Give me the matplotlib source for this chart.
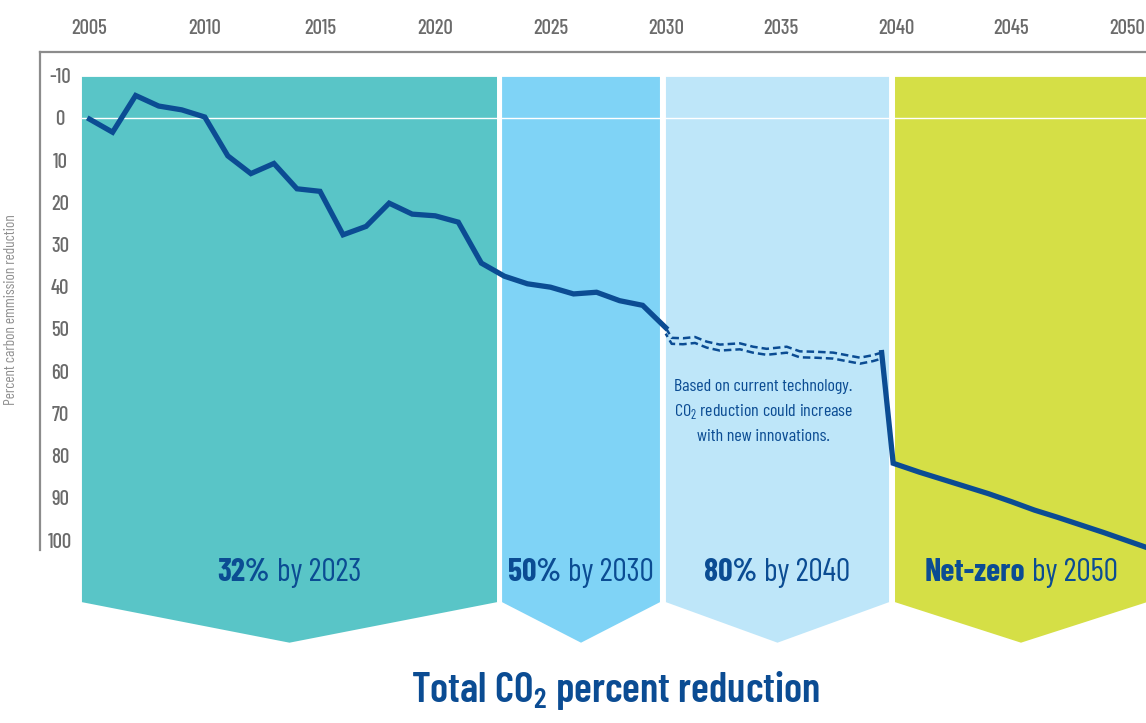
import matplotlib
matplotlib.use('Agg')
import matplotlib.pyplot as plt
import matplotlib.font_manager as fm
from matplotlib.offsetbox import TextArea, HPacker, AnnotationBbox
from matplotlib.patches import Polygon
from matplotlib.transforms import offset_copy

# measured history, % reduction vs 2005 (negative = increase)
hist_years = list(range(2005, 2031))
hist_reduction = [0.3, 3.4, -5.3, -2.8, -1.9, -0.2, 9.0, 13.2, 10.8, 16.8, 17.4,
                  27.7, 25.7, 20.2, 22.8, 23.2, 24.7, 34.4, 37.5, 39.3, 40.1,
                  41.7, 41.3, 43.3, 44.4, 49.7]

# projection with current technology (dashed)
proj_years = [2030.0, 2030.26, 2030.75, 2031.27, 2031.78, 2032.35, 2033.22, 2033.79, 2034.38,
              2035.25, 2035.82, 2036.55, 2037.27, 2037.85, 2038.43, 2038.99, 2039.37]
proj_reduction = [49.7, 52.1, 52.2, 51.9, 53.0, 53.7, 53.4, 54.2, 54.7,
                  54.2, 55.3, 55.4, 55.6, 56.2, 56.8, 56.2, 55.6]

# path to net-zero
future_years = [2039.37, 2039.87, 2041, 2042, 2043, 2044, 2045, 2046, 2047, 2048, 2049, 2050, 2050.84]
future_reduction = [55.6, 81.8, 83.9, 85.6, 87.3, 89.0, 90.9, 92.9, 94.6, 96.4, 98.2, 100.1, 101.7]

phase_start = [2004.67, 2022.9, 2030.01, 2039.95]
phase_end = [2022.68, 2029.75, 2039.69, 2050.88]
phase_bold = ['32%', '50%', '80%', 'Net-zero']
phase_rest = ['by 2023', 'by 2030', 'by 2040', 'by 2050']
phase_colors = ['#59c5c7', '#7fd3f6', '#bee6f9', '#d5df46']

xticks = list(range(2005, 2051, 5))
yticks = list(range(-10, 101, 10))

BLUE = '#0b4c93'
GRAY = '#6b6b6b'

names = {f.name for f in fm.fontManager.ttflist}
FONT = 'Barlow Condensed' if 'Barlow Condensed' in names else 'Roboto Condensed'
plt.rcParams['font.family'] = [FONT, 'DejaVu Sans']
plt.rcParams['font.stretch'] = 'condensed'
plt.rcParams['axes.unicode_minus'] = False

XL = (2002.85, 2050.84)

fig = plt.figure(figsize=(11.46, 7.23), dpi=100)
ax = fig.add_axes([40 / 1146, 1 - 660 / 723, 1 - 40 / 1146, 608 / 723])
ax.set_xlim(*XL)
ax.set_ylim(128.4, -15.6)

# chevron panels
for s, e, c in zip(phase_start, phase_end, phase_colors):
    mid = (s + e) / 2
    ax.add_patch(Polygon([(s, -9.7), (e, -9.7), (e, 114.7), (mid, 124.3), (s, 114.7)],
                         closed=True, facecolor=c, edgecolor='none', zorder=1))
ax.axhline(0, xmin=(phase_start[0] - XL[0]) / (XL[1] - XL[0]), color='white', lw=1.0, zorder=2)

ax.plot(hist_years, hist_reduction, color=BLUE, lw=3.8, solid_joinstyle='miter', zorder=4)
ax.plot(proj_years, proj_reduction, color=BLUE, lw=1.8, ls=(0, (3, 1.6)), zorder=4)
ax.plot(proj_years, proj_reduction, color=BLUE, lw=1.8, ls=(1.5, (3, 1.6)), zorder=4,
        transform=offset_copy(ax.transData, fig=fig, x=0, y=-4.3, units='points'))
ax.plot(future_years, future_reduction, color=BLUE, lw=3.8, solid_joinstyle='miter', zorder=4)

for s, e, b, r in zip(phase_start, phase_end, phase_bold, phase_rest):
    box = HPacker(children=[TextArea(b, textprops=dict(color=BLUE, fontsize=23, fontweight='bold')),
                            TextArea(r, textprops=dict(color=BLUE, fontsize=23, fontweight='normal'))],
                  align='baseline', pad=0, sep=5)
    ax.add_artist(AnnotationBbox(box, ((s + e) / 2, 107.8), xycoords='data', frameon=False,
                                 box_alignment=(0.5, 0.5), pad=0, zorder=5))

ax.text(2034.25, 69.5,
        'Based on current technology.\nCO$_{\\mathregular{2}}$ reduction could increase\nwith new innovations.',
        ha='center', va='center', color=BLUE, fontsize=13, linespacing=1.6, zorder=5)

# axes cosmetics
for side in ['right', 'bottom']:
    ax.spines[side].set_visible(False)
for side in ['top', 'left']:
    ax.spines[side].set_color('#8c8c8c')
    ax.spines[side].set_linewidth(1.6)
ax.spines['left'].set_bounds(102.4, -15.6)

ax.xaxis.tick_top()
ax.set_xticks(xticks)
ax.tick_params(axis='x', length=0, pad=10, labelsize=15, labelcolor=GRAY)
ax.set_yticks(yticks)
ax.tick_params(axis='y', length=0, pad=-14.4, labelsize=15, labelcolor=GRAY)
for lbl in ax.get_xticklabels() + ax.get_yticklabels():
    lbl.set_fontweight('medium')
for lbl in ax.get_yticklabels():
    lbl.set_horizontalalignment('center')

ax.set_ylabel('Percent carbon emmission reduction', color='#8f8f8f', fontsize=11, fontweight='normal')
ax.yaxis.set_label_coords(-22 / 1106, (660 - 310) / 608)

fig.text(615.5 / 1146, 1 - 690 / 723, 'Total CO$_{\\mathregular{2}}$ percent reduction',
         ha='center', va='center', color=BLUE, fontsize=30, fontweight='semibold')

fig.savefig('out.png', dpi=100)
